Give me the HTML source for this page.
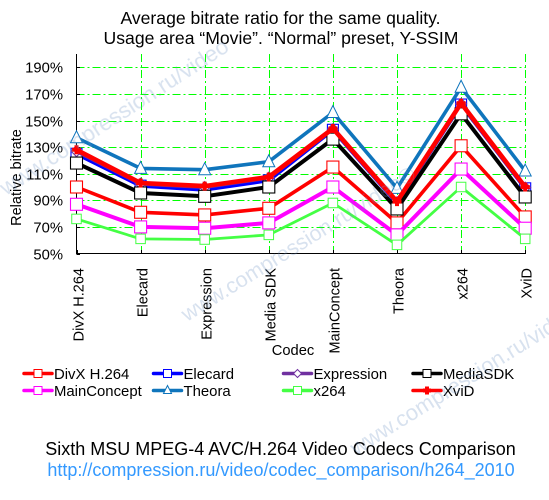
<!DOCTYPE html>
<html>
<head>
<meta charset="utf-8">
<style>
html,body{margin:0;padding:0;background:#fff}
svg{display:block}
text{font-family:"Liberation Sans",Arial,sans-serif;fill:#000}
</style>
</head>
<body>
<svg id="chart" xmlns="http://www.w3.org/2000/svg" width="549" height="500" viewBox="0 0 549 500">
  <rect width="549" height="500" fill="#fff"/>
  <text x="280.5" y="24" font-size="17.6" text-anchor="middle">Average bitrate ratio for the same quality.</text>
  <text x="281" y="44" font-size="17.6" text-anchor="middle">Usage area “Movie”. “Normal” preset, Y-SSIM</text>
  <g id="grid" shape-rendering="crispEdges"></g>
  <g id="axes"></g>
  <g id="series"></g>
  <g id="legend"></g>
  <text transform="translate(21,177.5) rotate(-90)" font-size="14.5" text-anchor="middle">Relative bitrate</text>
  <text x="293" y="355" font-size="14.7" text-anchor="middle">Codec</text>
  <text x="280.5" y="455" font-size="18" text-anchor="middle">Sixth MSU MPEG-4 AVC/H.264 Video Codecs Comparison</text>
  <text x="281" y="476" font-size="18" text-anchor="middle" style="fill:#3399ff">http://compression.ru/video/codec_comparison/h264_2010</text>
  <g opacity="0.27">
    <text font-size="22.5" transform="translate(6,196) rotate(-33)" style="fill:#6f93c4">www.compression.ru/video</text>
    <text font-size="21.5" transform="translate(187,322) rotate(-32)" style="fill:#6f93c4">www.compression.ru/video©</text>
    <text font-size="22" transform="translate(356,456) rotate(-32)" style="fill:#6f93c4">www.compression.ru/video</text>
  </g>
</svg>
<script>
const categories = ["DivX H.264","Elecard","Expression","Media SDK","MainConcept","Theora","x264","XviD"];
const yTicks = [50,70,90,110,130,150,170,190];
const divxValues = [100,81,79,84,115,73,131,77.5];
const elecardValues = [125,101,98,105,143,88,162,99];
const expressionValues = [127,102.5,100,107,143.5,88.5,162.5,99.5];
const mediaSdkValues = [118,95.5,93,100,136,83.5,155,92.5];
const mainConceptValues = [87,70,69,73,100,64,113.5,69];
const theoraValues = [137,114,113,119,156,99,175,112];
const x264Values = [76,61,60.5,64,88,56.5,100,61];
const xvidValues = [128,103,100.7,107.5,144,89,163,100];
const seriesNames = ["DivX H.264","Elecard","Expression","MediaSDK","MainConcept","Theora","x264","XviD"];

const NS = "http://www.w3.org/2000/svg";
function make(tag, parent, attrs, txt){
  const e = document.createElementNS(NS, tag);
  for (const k in attrs) e.setAttribute(k, attrs[k]);
  if (txt !== undefined) e.textContent = txt;
  parent.appendChild(e);
  return e;
}
const xScale = i => 76.5 + i * 64.1;
const yScale = v => 253.5 - (v - 50) * 1.33;
const styles = [
  {values:divxValues,color:"#ff0000",w:3.6,marker:"square",size:12,mw:1.1},
  {values:elecardValues,color:"#0000ff",w:4,marker:"square",size:11,mw:1.1},
  {values:expressionValues,color:"#7030a0",w:4,marker:"diamond",size:11,mw:1.1},
  {values:mediaSdkValues,color:"#000000",w:4,marker:"square",size:12,mw:1.1},
  {values:mainConceptValues,color:"#ff00ff",w:4,marker:"square",size:12,mw:1.1},
  {values:theoraValues,color:"#0f75bc",w:3.6,marker:"triangle",size:12,mw:1},
  {values:x264Values,color:"#44ff44",w:2.8,marker:"square",size:9.5,mw:1},
  {values:xvidValues,color:"#ff0000",w:4.6,marker:"plus",size:9,mw:0}
];
function drawMarker(g, kind, x, y, s, color, mw){
  let m;
  const h = s / 2;
  if (kind === "square") {
    m = make("rect", g, {x:x-h,y:y-h,width:s,height:s,fill:"#fff",stroke:color,"stroke-width":mw});
  } else if (kind === "diamond") {
    m = make("polygon", g, {points:`${x},${y-h} ${x+h},${y} ${x},${y+h} ${x-h},${y}`,fill:"#fff",stroke:color,"stroke-width":mw});
  } else if (kind === "triangle") {
    m = make("polygon", g, {points:`${x},${y-h-1} ${x+h},${y+h-1} ${x-h},${y+h-1}`,fill:"#fff",stroke:color,"stroke-width":mw});
  } else {
    m = make("path", g, {d:`M${x-h} ${y}H${x+h}M${x} ${y-h}V${y+h}`,fill:"none",stroke:color,"stroke-width":4});
  }
  
  
}
const grid = document.getElementById("grid");
const axes = document.getElementById("axes");
const dash = "8 3 2 3";
yTicks.forEach(t => {
  const y = Math.round(yScale(t)) + 0.5;
  if (t > 50) {
    const gl = make("line", grid, {x1:76.5,x2:526,y1:y,y2:y,stroke:"#00ff00","stroke-width":1,"stroke-dasharray":dash});
    
    
  }
  const tk = make("line", axes, {x1:76.5,x2:80,y1:y,y2:y,stroke:"#000","stroke-width":1});
  
  
  const lb = make("text", axes, {x:63,y:y+5,"font-size":14.8,"text-anchor":"end"}, t + "%");
  
  
});
categories.forEach((c, i) => {
  const x = Math.round(xScale(i)) + 0.5;
  if (i > 0) {
    const gl = make("line", grid, {x1:x,x2:x,y1:54,y2:253,stroke:"#00ff00","stroke-width":1,"stroke-dasharray":dash});
    
    
  }
  const tk = make("line", axes, {x1:x,x2:x,y1:253.5,y2:250,stroke:"#000","stroke-width":1});
  
  
  const lb = make("text", axes, {transform:`translate(${x+6},268) rotate(-90)`,"font-size":14.5,"text-anchor":"end"}, c);
  
  
});
const yAxis = make("line", axes, {x1:76.5,x2:76.5,y1:54,y2:254,stroke:"#000","stroke-width":1});


const xAxis = make("line", axes, {x1:76,x2:526,y1:253.5,y2:253.5,stroke:"#000","stroke-width":1});



const seriesRoot = document.getElementById("series");
styles.forEach((s, si) => {
  const g = make("g", seriesRoot, {});
  
  
  const pts = s.values.map((v, i) => xScale(i).toFixed(1) + "," + yScale(v).toFixed(1)).join(" ");
  const pl = make("polyline", g, {points:pts,fill:"none",stroke:s.color,"stroke-width":s.w,"stroke-linejoin":"round"});
  
  
  s.values.forEach((v, i) => drawMarker(g, s.marker, xScale(i), yScale(v), s.size, s.color, s.mw));
});

const legendRoot = document.getElementById("legend");
const legendCols = [24, 153.5, 283.5, 413];
const legendRows = [374, 391];
const legendOrder = [0,1,2,3,4,5,6,7];
legendOrder.forEach(si => {
  const s = styles[si];
  const col = si % 4, row = Math.floor(si / 4);
  const x = legendCols[col], y = legendRows[row];
  const g = make("g", legendRoot, {});
  
  
  const ln = make("line", g, {x1:x,x2:x+28,y1:y-0.5,y2:y-0.5,stroke:s.color,"stroke-width":3.5,"stroke-linecap":"round"});
  
  
  drawMarker(g, s.marker, x + 14, y - 0.5, 8, s.color, 1);
  const tx = make("text", g, {x:x+30,y:y+5,"font-size":14.9}, seriesNames[si]);
  
  
});
</script>
</body>
</html>
